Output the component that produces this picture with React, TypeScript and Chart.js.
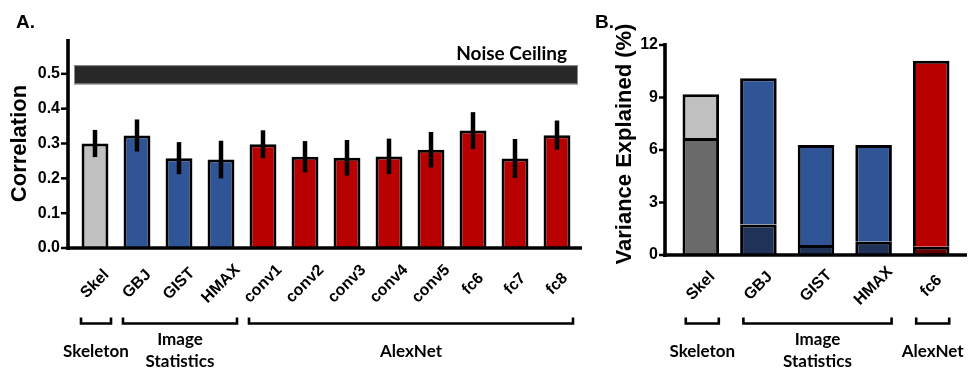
import React, { useEffect, useRef } from 'react';
import { Chart, registerables } from 'chart.js';

Chart.register(...registerables);

// ---------- Panel A data ----------
const A_CATEGORIES = ['Skel', 'GBJ', 'GIST', 'HMAX', 'conv1', 'conv2', 'conv3', 'conv4', 'conv5', 'fc6', 'fc7', 'fc8'];
const A_CORRELATION = [0.300, 0.323, 0.258, 0.254, 0.298, 0.262, 0.259, 0.263, 0.282, 0.337, 0.257, 0.324];
const A_ERROR = [0.039, 0.046, 0.046, 0.054, 0.040, 0.045, 0.051, 0.051, 0.051, 0.053, 0.056, 0.042];
const A_BAR_GROUP = [0, 1, 1, 1, 2, 2, 2, 2, 2, 2, 2, 2];
const A_Y_MAX = 0.6;
const A_Y_STEP = 0.1;
const A_Y_LAST_LABEL = 0.5;
const NOISE_CEILING_LOW = 0.47;
const NOISE_CEILING_HIGH = 0.525;
const A_GROUP_FIRST = [0, 1, 4];
const A_GROUP_LAST = [0, 3, 11];

// ---------- Panel B data ----------
const B_CATEGORIES = ['Skel', 'GBJ', 'GIST', 'HMAX', 'fc6'];
const B_LOWER = [6.68, 1.75, 0.57, 0.76, 0.47];
const B_UPPER = [2.50, 8.35, 5.72, 5.53, 10.63];
const B_BAR_GROUP = [0, 1, 1, 1, 2];
const B_Y_MAX = 12;
const B_Y_STEP = 3;
const B_GROUP_FIRST = [0, 1, 4];
const B_GROUP_LAST = [0, 3, 4];

// ---------- shared ----------
const GROUP_NAMES = [['Skeleton'], ['Image', 'Statistics'], ['AlexNet']];
const GROUP_COLORS = ['#c0c0c0', '#2f5597', '#b90000'];
const GROUP_DARK = ['#6a6a6a', '#1f3257', '#6b0000'];

const ARIAL = '"Liberation Sans", Arial, sans-serif';
const CALIBRI = 'Lato, "Open Sans", sans-serif';

function drawBracket(ctx: CanvasRenderingContext2D, x1: number, x2: number, y: number) {
  ctx.beginPath();
  ctx.moveTo(x1, y - 6);
  ctx.lineTo(x1, y);
  ctx.lineTo(x2, y);
  ctx.lineTo(x2, y - 6);
  ctx.stroke();
}

function drawGroups(
  ctx: CanvasRenderingContext2D,
  xScale: any,
  first: number[],
  last: number[],
  leftPad: number,
  rightPad: number
) {
  ctx.strokeStyle = '#000';
  ctx.lineWidth = 2.6;
  ctx.lineJoin = 'miter';
  ctx.fillStyle = '#000';
  ctx.font = `bold 17px ${CALIBRI}`;
  ctx.textAlign = 'center';
  ctx.textBaseline = 'alphabetic';
  for (let g = 0; g < first.length; g++) {
    const x1 = xScale.getPixelForValue(first[g]) - leftPad;
    const x2 = xScale.getPixelForValue(last[g]) + rightPad;
    drawBracket(ctx, x1, x2, 323.5);
    const cx = (x1 + x2) / 2;
    const lines = GROUP_NAMES[g];
    if (lines.length === 1) {
      ctx.fillText(lines[0], cx, 357);
    } else {
      ctx.fillText(lines[0], cx, 345);
      ctx.fillText(lines[1], cx, 367);
    }
  }
}

function drawXLabels(ctx: CanvasRenderingContext2D, xScale: any, labels: string[], cy: number) {
  for (let i = 0; i < labels.length; i++) {
    const x = xScale.getPixelForValue(i);
    ctx.save();
    ctx.translate(x, cy);
    ctx.rotate(-Math.PI / 4);
    ctx.fillStyle = '#000';
    ctx.font = `700 16px ${ARIAL}`;
    ctx.textAlign = 'center';
    ctx.textBaseline = 'middle';
    ctx.fillText(labels[i], 0, 0);
    ctx.restore();
  }
}

const panelAPlugin = {
  id: 'panelA',
  afterDraw(chart: any) {
    const ctx: CanvasRenderingContext2D = chart.ctx;
    const xs = chart.scales.x;
    const ys = chart.scales.y;
    const area = chart.chartArea;
    ctx.save();

    // noise ceiling band
    const nTop = ys.getPixelForValue(NOISE_CEILING_HIGH);
    const nBot = ys.getPixelForValue(NOISE_CEILING_LOW);
    ctx.fillStyle = '#282828';
    ctx.fillRect(area.left, nTop, area.right - area.left, nBot - nTop);
    ctx.strokeStyle = '#8c8c8c';
    ctx.lineWidth = 1;
    ctx.strokeRect(area.left + 0.5, nTop + 0.5, area.right - area.left - 1, nBot - nTop - 1);
    ctx.fillStyle = '#000';
    ctx.font = `bold 19px ${CALIBRI}`;
    ctx.textAlign = 'right';
    ctx.textBaseline = 'alphabetic';
    ctx.fillText('Noise Ceiling', area.right - 11, 60);

    // error bars
    const meta = chart.getDatasetMeta(0);
    ctx.strokeStyle = '#000';
    ctx.lineWidth = 4.5;
    ctx.lineCap = 'butt';
    meta.data.forEach((bar: any, i: number) => {
      const v = A_CORRELATION[i];
      const e = A_ERROR[i];
      ctx.beginPath();
      ctx.moveTo(bar.x, ys.getPixelForValue(v + e));
      ctx.lineTo(bar.x, ys.getPixelForValue(v - e));
      ctx.stroke();
    });

    // axes
    const axisX = area.left - 6;
    const zeroY = ys.getPixelForValue(0);
    ctx.lineWidth = 3.6;
    ctx.beginPath();
    ctx.moveTo(axisX, ys.getPixelForValue(A_Y_MAX));
    ctx.lineTo(axisX, zeroY + 2);
    ctx.stroke();
    ctx.beginPath();
    ctx.moveTo(area.left - 8, zeroY);
    ctx.lineTo(area.right + 4, zeroY);
    ctx.stroke();
    ctx.lineWidth = 2.5;
    for (let v = 0; v <= A_Y_LAST_LABEL + 1e-9; v += A_Y_STEP) {
      const py = ys.getPixelForValue(v);
      ctx.beginPath();
      ctx.moveTo(axisX - 7, py);
      ctx.lineTo(axisX, py);
      ctx.stroke();
    }
    ctx.restore();

    drawXLabels(ctx, xs, A_CATEGORIES, 284);

    ctx.save();
    drawGroups(ctx, xs, A_GROUP_FIRST, A_GROUP_LAST, 14, 16);
    ctx.fillStyle = '#000';
    ctx.font = `bold 19px ${ARIAL}`;
    ctx.textAlign = 'left';
    ctx.textBaseline = 'alphabetic';
    ctx.fillText('A.', 16, 28);
    ctx.restore();
  },
};

const panelBPlugin = {
  id: 'panelB',
  afterDraw(chart: any) {
    const ctx: CanvasRenderingContext2D = chart.ctx;
    const xs = chart.scales.x;
    const ys = chart.scales.y;
    const area = chart.chartArea;
    ctx.save();
    ctx.strokeStyle = '#000';
    const axisX = area.left - 7;
    const zeroY = ys.getPixelForValue(0);
    ctx.lineWidth = 3.6;
    ctx.beginPath();
    ctx.moveTo(axisX, ys.getPixelForValue(B_Y_MAX) - 2);
    ctx.lineTo(axisX, zeroY + 2);
    ctx.stroke();
    ctx.beginPath();
    ctx.moveTo(area.left - 9, zeroY);
    ctx.lineTo(area.right + 7, zeroY);
    ctx.stroke();
    ctx.lineWidth = 2.5;
    for (let v = 0; v <= B_Y_MAX; v += B_Y_STEP) {
      const py = ys.getPixelForValue(v);
      ctx.beginPath();
      ctx.moveTo(axisX - 6, py);
      ctx.lineTo(axisX, py);
      ctx.stroke();
    }

    // y title
    ctx.fillStyle = '#000';
    ctx.font = `bold 22px ${ARIAL}`;
    ctx.textAlign = 'center';
    ctx.textBaseline = 'middle';
    ctx.save();
    ctx.translate(35, 144);
    ctx.rotate(-Math.PI / 2);
    ctx.fillText('Variance Explained (%)', 0, 0);
    ctx.restore();
    ctx.restore();

    drawXLabels(ctx, xs, B_CATEGORIES, 286);

    ctx.save();
    drawGroups(ctx, xs, B_GROUP_FIRST, B_GROUP_LAST, 15, 18);
    ctx.fillStyle = '#000';
    ctx.font = `bold 19px ${ARIAL}`;
    ctx.textAlign = 'left';
    ctx.textBaseline = 'alphabetic';
    ctx.fillText('B.', 5, 28);
    ctx.restore();
  },
};

export default function App() {
  const refA = useRef<HTMLCanvasElement>(null);
  const refB = useRef<HTMLCanvasElement>(null);

  useEffect(() => {
    const tickFont = { family: ARIAL, size: 16, weight: 700 };

    const chartA = new Chart(refA.current as HTMLCanvasElement, {
      type: 'bar',
      data: {
        labels: A_CATEGORIES,
        datasets: [
          {
            data: A_CORRELATION,
            backgroundColor: A_BAR_GROUP.map((g) => GROUP_COLORS[g]),
            borderColor: '#000',
            borderWidth: 3,
            borderSkipped: 'start',
            categoryPercentage: 1,
            barPercentage: 0.64,
          },
        ],
      },
      options: {
        responsive: false,
        animation: false,
        devicePixelRatio: 1,
        layout: { padding: { left: 0, right: 22, top: 39, bottom: 120 } },
        plugins: { legend: { display: false }, tooltip: { enabled: false } },
        scales: {
          x: { display: false, offset: true },
          y: {
            min: 0,
            max: A_Y_MAX,
            afterFit: (s: any) => {
              s.width = 74;
            },
            grid: { display: false, drawTicks: false },
            border: { display: false },
            ticks: {
              stepSize: A_Y_STEP,
              padding: 14,
              color: '#000',
              font: tickFont,
              callback: (v: any) => (Number(v) > A_Y_LAST_LABEL + 1e-6 ? '' : Number(v).toFixed(1)),
            },
            title: {
              display: true,
              text: 'Correlation',
              color: '#000',
              font: { family: ARIAL, size: 22, weight: 700 },
              padding: { top: 7, bottom: 0 },
            },
          },
        },
      },
      plugins: [panelAPlugin],
    } as any);

    const chartB = new Chart(refB.current as HTMLCanvasElement, {
      type: 'bar',
      data: {
        labels: B_CATEGORIES,
        datasets: [
          {
            data: B_LOWER,
            backgroundColor: B_BAR_GROUP.map((g) => GROUP_DARK[g]),
            borderColor: '#000',
            borderWidth: { top: 3, left: 3, right: 3, bottom: 0 },
            borderSkipped: false,
            inflateAmount: 0,
            categoryPercentage: 1,
            barPercentage: 0.635,
          },
          {
            data: B_UPPER,
            backgroundColor: B_BAR_GROUP.map((g) => GROUP_COLORS[g]),
            borderColor: '#000',
            borderWidth: { top: 3, left: 3, right: 3, bottom: 0 },
            borderSkipped: false,
            inflateAmount: 0,
            categoryPercentage: 1,
            barPercentage: 0.635,
          },
        ],
      },
      options: {
        responsive: false,
        animation: false,
        devicePixelRatio: 1,
        layout: { padding: { left: 0, right: 10, top: 45, bottom: 113 } },
        plugins: { legend: { display: false }, tooltip: { enabled: false } },
        scales: {
          x: { display: false, stacked: true, offset: true },
          y: {
            stacked: true,
            min: 0,
            max: B_Y_MAX,
            afterFit: (s: any) => {
              s.width = 82;
            },
            grid: { display: false, drawTicks: false },
            border: { display: false },
            ticks: { stepSize: B_Y_STEP, padding: 14, color: '#000', font: tickFont },
          },
        },
      },
      plugins: [panelBPlugin],
    } as any);

    return () => {
      chartA.destroy();
      chartB.destroy();
    };
  }, []);

  return (
    <div style={{ position: 'absolute', left: 0, top: 0, width: 970, height: 368, background: '#fff' }}>
      <canvas
        ref={refA}
        width={600}
        height={368}
        style={{ position: 'absolute', left: 0, top: 0, width: 600, height: 368 }}
      />
      <canvas
        ref={refB}
        width={380}
        height={368}
        style={{ position: 'absolute', left: 590, top: 0, width: 380, height: 368 }}
      />
    </div>
  );
}
